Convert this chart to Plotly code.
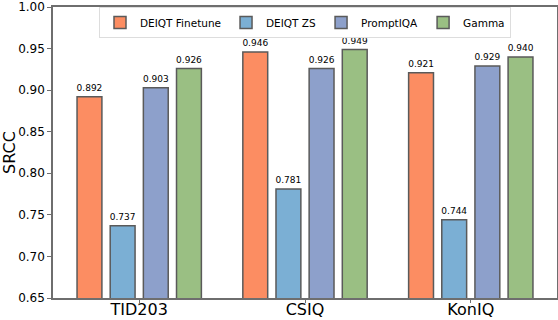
import plotly.graph_objects as go

# ----------------------
# Data
# ----------------------
datasets = ["TID203", "CSIQ", "KonIQ"]
methods = ["DEIQT Finetune", "DEIQT ZS", "PromptIQA", "Gamma"]
deiqt_ft = [0.892, 0.946, 0.921]
deiqt_zs = [0.737, 0.781, 0.744]
promptiqa = [0.903, 0.926, 0.929]
gamma = [0.926, 0.949, 0.940]

series = [deiqt_ft, deiqt_zs, promptiqa, gamma]
colors = ["#FC8D62", "#7BAFD4", "#8DA0CB", "#9ABF83"]

fig = go.Figure()
for i, (name, vals, col) in enumerate(zip(methods, series, colors)):
    fig.add_trace(go.Bar(
        x=datasets,
        y=vals,
        name=name,
        offsetgroup=str(i),
        marker=dict(color=col, line=dict(color="#5a5a5a", width=1.5)),
    ))
# value labels, grouped the same way as the bars
for i, vals in enumerate(series):
    fig.add_trace(go.Scatter(
        x=datasets,
        y=vals,
        mode="markers+text",
        offsetgroup=str(i),
        marker=dict(size=4, opacity=0),
        text=[f"{v:.3f}" for v in vals],
        textposition="top center",
        textfont=dict(size=9, color="black"),
        showlegend=False,
        hoverinfo="skip",
        cliponaxis=False,
    ))

fig.update_layout(
    width=558, height=320,
    margin=dict(l=53, r=1, t=7, b=22, autoexpand=False),
    plot_bgcolor="white", paper_bgcolor="white",
    font=dict(family="DejaVu Sans", color="black"),
    barmode="group",
    bargap=0.2,
    bargroupgap=0.25,
    scattermode="group",
    scattergap=0.2,
    showlegend=True,
    legend=dict(
        orientation="h",
        x=0.50, y=1.0, xanchor="center", yanchor="top",
        bgcolor="rgba(255,255,255,0)",
        bordercolor="#dddddd", borderwidth=1,
        font=dict(size=10.5),
        itemwidth=30,
    ),
    xaxis=dict(
        range=[-0.52, 2.52],
        automargin=False,
        showline=True, linecolor="#6e6e6e", linewidth=1.5, mirror=True,
        ticks="outside", ticklen=3, tickcolor="#6e6e6e",
        tickfont=dict(size=16),
        ticklabelstandoff=-7,
    ),
    yaxis=dict(
        range=[0.65, 1.0],
        automargin=False,
        dtick=0.05, tickformat=".2f",
        showline=True, linecolor="#6e6e6e", linewidth=1.5, mirror=True,
        ticks="outside", ticklen=4, tickcolor="#6e6e6e",
        showgrid=False, zeroline=False,
        tickfont=dict(size=12),
        title=dict(text="SRCC", font=dict(size=16), standoff=4),
    ),
)

fig.write_html("out.html", config={"displayModeBar": False},
               post_script="document.body.style.margin='0';")
